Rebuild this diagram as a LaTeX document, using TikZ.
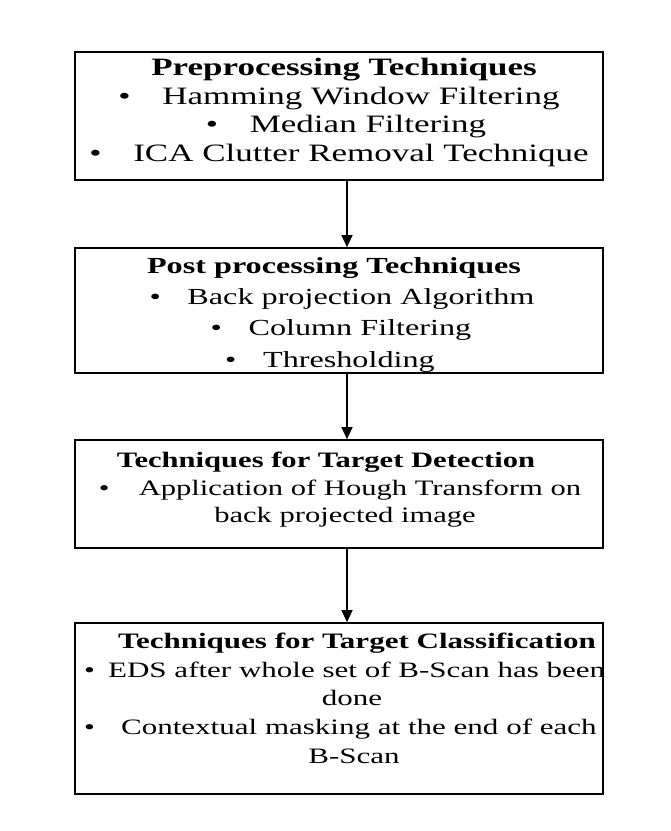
\documentclass[tikz,border=0pt]{standalone}
\usepackage{fontspec}
\setmainfont{Liberation Serif}
\usetikzlibrary{arrows.meta}
% Times-like text set wide, one line at a time
\newcommand{\xs}{1}
\newcommand{\wide}[1]{\scalebox{\xs}[1]{#1}}
\newcommand{\itm}[2]{\wide{\textbullet\hspace{#1}#2}}
\begin{document}
\begin{tikzpicture}[x=1pt,y=-1pt,
  box/.style={draw, line width=1.7pt, minimum width=528pt, inner sep=0pt},
  ln/.style={inner sep=0pt, anchor=base},
  lnw/.style={inner sep=0pt, anchor=base west},
  fa/.style={font=\fontsize{25}{29}\selectfont\renewcommand{\xs}{1.40}},
  fb/.style={font=\fontsize{23}{29}\selectfont\renewcommand{\xs}{1.40}},
  fc/.style={font=\fontsize{22}{28}\selectfont\renewcommand{\xs}{1.39}},
  fd/.style={font=\fontsize{22}{28}\selectfont\renewcommand{\xs}{1.41}},
  arr/.style={line width=1.4pt, -{Triangle[length=12pt,width=11pt]}}]
\useasboundingbox (0,0) rectangle (671,831);

% boxes
\node[box, minimum height=128pt] (b1) at (339,116) {};
\node[box, minimum height=125pt] (b2) at (339,310.5) {};
\node[box, minimum height=108pt] (b3) at (339,494) {};
\node[box, minimum height=171pt] (b4) at (339,708.5) {};

% preprocessing
\begin{scope}[every node/.append style={fa}]
\node[ln] (p0) at (344,75)  {\textbf{\wide{Preprocessing Techniques}}};
\node[ln] (p1) at (339,104) {\itm{22.6pt}{Hamming Window Filtering}};
\node[ln] (p2) at (346,132) {\itm{22.6pt}{Median Filtering}};
\node[ln] (p3) at (339,161) {\itm{22.6pt}{ICA Clutter Removal Technique}};
\end{scope}

% post processing
\begin{scope}[every node/.append style={fb}]
\node[ln] (q0) at (334,273) {\textbf{\wide{Post processing Techniques}}};
\node[ln] (q1) at (342,304) {\itm{19pt}{Back projection Algorithm}};
\node[ln] (q2) at (341,335) {\itm{19pt}{Column Filtering}};
\node[ln] (q3) at (330,367) {\itm{19pt}{Thresholding}};
\end{scope}

% detection
\begin{scope}[every node/.append style={fc}]
\node[ln] (r0) at (326,467) {\textbf{\wide{Techniques for Target Detection}}};
\node[ln] (r1) at (340,495) {\itm{21pt}{Application of Hough Transform on}};
\node[ln] (r2) at (345,522) {\wide{back projected image}};
\end{scope}

% classification
\begin{scope}[every node/.append style={fd}]
\node[ln] (s0) at (357,648) {\textbf{\wide{Techniques for Target Classification}}};
\node[lnw] (s1) at (84,677) {\itm{9.3pt}{EDS after whole set of B-Scan has been}};
\node[ln] (s2) at (352,705) {\wide{done}};
\node[lnw] (s3) at (84,734) {\itm{18.5pt}{Contextual masking at the end of each}};
\node[ln] (s4) at (354,763) {\wide{B-Scan}};
\end{scope}

% connectors
\coordinate (ax) at (347,0);
\draw[arr] (b1.south -| ax) -- (b2.north -| ax);
\draw[arr] (b2.south -| ax) -- (b3.north -| ax);
\draw[arr] (b3.south -| ax) -- (b4.north -| ax);
\end{tikzpicture}
\end{document}
